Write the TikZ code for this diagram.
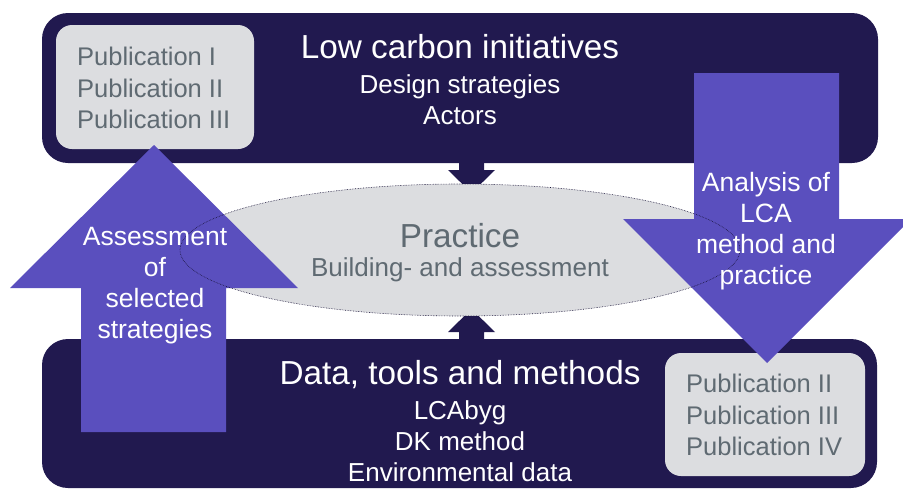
\documentclass[tikz,border=0pt]{standalone}
\usepackage{fontspec}
\setmainfont{Liberation Sans}
\definecolor{navy}{HTML}{21194F}
\definecolor{purp}{HTML}{5A4FBE}
\definecolor{lgray}{HTML}{DCDDE0}
\definecolor{tgray}{HTML}{5F6A72}
\begin{document}
\begin{tikzpicture}[x=1pt,y=-1pt,
  darkbox/.style={fill=navy,draw=none,rounded corners=26pt},
  pubbox/.style={fill=lgray,draw=none,rounded corners=16pt},
  bigarrow/.style={fill=purp,draw=none},
  smallarrow/.style={fill=navy,draw=none},
  bigtxt/.style={font=\fontsize{33.3}{38}\selectfont,inner sep=0pt},
  subtxt/.style={font=\fontsize{26}{31}\selectfont,align=center,inner sep=0pt},
  pubtxt/.style={font=\fontsize{25.5}{31.3}\selectfont,align=left,inner sep=0pt,text=tgray},
  arrtxt/.style={font=\fontsize{26.5}{31}\selectfont,align=center,inner sep=0pt,text=white}]
\useasboundingbox (0,0) rectangle (903,490);
% dark boxes
\path[darkbox] (42,13) rectangle (878,163);
\path[darkbox] (42,339) rectangle (877,488);
% grey publication boxes
\path[pubbox] (56,25) rectangle (254,149);
\path[pubbox] (665,353) rectangle (865,476);
% small arrows
\path[smallarrow] (459,162) -- (459,170) -- (448,170) -- (471.5,193) -- (495,170) -- (484,170) -- (484,162) -- cycle;
\path[smallarrow] (459,340) -- (459,332) -- (448,332) -- (471.5,309) -- (495,332) -- (484,332) -- (484,340) -- cycle;
% ellipse fill
\fill[lgray] (460,250) ellipse [x radius=280, y radius=66];
% big arrows
\path[bigarrow] (81,432) -- (81,288) -- (10,288) -- (154,145) -- (298,288) -- (226,288) -- (226,432) -- cycle;
\path[bigarrow] (694,73) -- (694,219) -- (623,219) -- (767,363) -- (911,219) -- (839,219) -- (839,73) -- cycle;
% ellipse outline
\draw[navy!70!black,densely dotted,line width=0.6pt] (460,250) ellipse [x radius=280, y radius=66];
% texts
\node[bigtxt,text=white] (lci) at (460,47) {Low carbon initiatives};
\node[subtxt,text=white] (lcisub) at (460,100) {Design strategies\\Actors};
\node[pubtxt,anchor=west] (pubA) at (77,88) {Publication I\\Publication II\\Publication III};
\node[bigtxt,text=tgray] (prac) at (460,236) {Practice};
\node[subtxt,text=tgray] (pracsub) at (460,270) {Building- and assessment};
\node[bigtxt,text=white] (dtm) at (460,375) {Data, tools and methods};
\node[subtxt,text=white] (dtmsub) at (460,441) {LCAbyg\\DK method\\Environmental data};
\node[pubtxt,anchor=west] (pubB) at (686,415) {Publication II\\Publication III\\Publication IV};
\node[arrtxt] (asel) at (155,286) {Assessment\\of\\selected\\strategies};
\node[arrtxt] (ana) at (766,231) {Analysis of\\LCA\\method and\\practice};
\end{tikzpicture}
\end{document}
